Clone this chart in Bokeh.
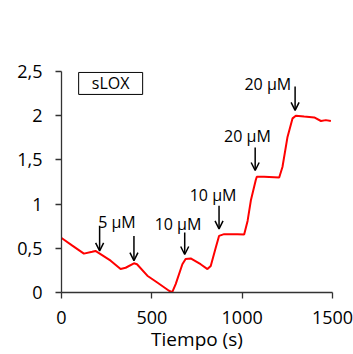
from bokeh.plotting import figure
from bokeh.models import (Range1d, FixedTicker, CustomJSTickFormatter, Arrow, OpenHead,
                          ColumnDataSource)
from bokeh.core.properties import value
from bokeh.embed import file_html
from bokeh.resources import INLINE

# --- data ---
time_s = [0, 60, 124, 170, 188, 216, 272, 327, 355, 401, 418, 475, 530, 595, 613,
          632, 669, 687, 715, 770, 808, 826, 854, 872, 900, 974, 1011, 1030, 1048,
          1075, 1081, 1121, 1205, 1223, 1251, 1279, 1297, 1343, 1399, 1436, 1463, 1491]
signal = [0.617, 0.53, 0.44, 0.46, 0.47, 0.435, 0.36, 0.265, 0.28, 0.33, 0.32, 0.19,
          0.113, 0.02, 0.005, 0.095, 0.32, 0.38, 0.385, 0.32, 0.265, 0.30, 0.51, 0.64,
          0.66, 0.66, 0.655, 0.81, 1.04, 1.27, 1.31, 1.31, 1.30, 1.42, 1.76, 1.97, 2.0,
          1.99, 1.98, 1.94, 1.95, 1.94]

arrow_t = [211, 401, 682, 872, 1072, 1293]
arrow_top = [0.756, 0.64, 0.68, 0.98, 1.64, 2.33]
arrow_tip = [0.47, 0.36, 0.43, 0.72, 1.38, 2.06]

label_text = ["5 µM", "10 µM", "10 µM", "20 µM", "20 µM"]
label_t = [307, 645, 839, 1029, 1142]
label_v = [0.80, 0.78, 1.10, 1.77, 2.36]

x_ticks = [0, 500, 1000, 1500]
y_ticks = [0, 0.5, 1, 1.5, 2, 2.5]

FONT = "Open Sans"

p = figure(width=353, height=354, output_backend="svg", toolbar_location=None,
           x_range=Range1d(0, 1500), y_range=Range1d(0, 2.5),
           min_border_left=61, min_border_right=21, min_border_top=71, min_border_bottom=62)
p.outline_line_color = None
p.grid.visible = False
p.background_fill_color = "white"

p.line(time_s, signal, line_color="#ff0000", line_width=2)

for t, y0, y1 in zip(arrow_t, arrow_top, arrow_tip):
    p.add_layout(Arrow(end=OpenHead(size=8, line_width=1.5, line_color="black"),
                       x_start=t, y_start=y0, x_end=t, y_end=y1,
                       line_width=1.5, line_color="black"))

src = ColumnDataSource(dict(x=label_t, y=label_v, t=label_text))
p.text(x="x", y="y", text="t", source=src, text_font=value(FONT), text_font_size="16px",
       text_align="center", text_baseline="middle", text_color="black")

# sLOX box
p.rect(x=[272], y=[2.365], width=64, height=22, width_units="screen", height_units="screen",
       fill_color="white", line_color="black", line_width=1)
p.text(x=[272], y=[2.365], text=["sLOX"], text_font=value(FONT), text_font_size="16px",
       text_align="center", text_baseline="middle", text_color="black")

fmt = CustomJSTickFormatter(code="return tick.toString().replace('.', ',');")
for ax in (p.xaxis[0], p.yaxis[0]):
    ax.axis_line_color = "#333333"
    ax.axis_line_width = 1.3
    ax.major_tick_line_color = "#333333"
    ax.major_tick_line_width = 1.3
    ax.major_tick_out = 6
    ax.major_tick_in = 0
    ax.minor_tick_line_color = None
    ax.major_label_text_font = FONT
    ax.major_label_text_font_size = "18px"
    ax.major_label_text_color = "black"
    ax.formatter = fmt

p.xaxis.ticker = FixedTicker(ticks=x_ticks)
p.yaxis.ticker = FixedTicker(ticks=y_ticks)
p.yaxis.major_label_standoff = 13
p.xaxis.major_label_standoff = 12
p.xaxis.axis_label = "Tiempo (s)"
p.xaxis.axis_label_text_font = FONT
p.xaxis.axis_label_text_font_size = "19px"
p.xaxis.axis_label_text_font_style = "normal"
p.xaxis.axis_label_text_color = "black"
p.xaxis.axis_label_standoff = -1

open("out.html", "w").write(file_html(p, INLINE))
